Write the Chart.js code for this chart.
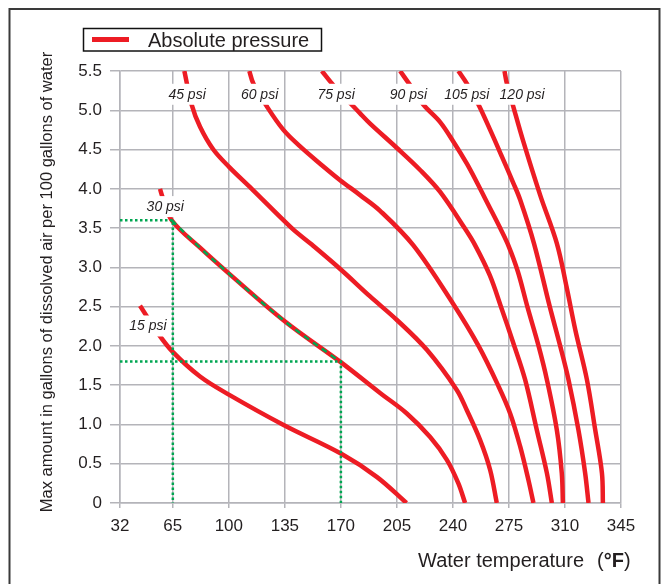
<!DOCTYPE html>
<html>
<head>
<meta charset="utf-8">
<script src="https://cdn.jsdelivr.net/npm/chart.js@4.4.0/dist/chart.umd.min.js"></script>
<style>
  html, body { margin: 0; padding: 0; background: #fff; }
</style>
</head>
<body>
<canvas id="airChart" width="663" height="584"></canvas>
<script>
// tick labels
const tempTicks = [32, 65, 100, 135, 170, 205, 240, 275, 310, 345]

// one curve per absolute pressure: water temperature (F) -> gallons of air per 100 gal
const temp15 = [44.5, 55.75, 65.1, 82, 100, 134.5, 170, 192.6, 211]
const air15 = [2.51, 2.16, 1.92, 1.61, 1.38, 0.99, 0.63, 0.33, 0]

const temp30 = [57, 58.5, 64.3, 82, 100.1, 135.1, 170.1, 194.5, 211.2, 225.75, 236.2, 243.4, 247.6]
const air30 = [4.0, 3.9, 3.6, 3.25, 2.92, 2.31, 1.79, 1.4, 1.14, 0.84, 0.55, 0.25, 0]

const temp45 = [72.2, 76.8, 82, 90.3, 100.1, 114.3, 139.3, 151.8, 170.1, 188.25, 205, 223.7, 242.4, 248.7, 257, 263.25, 267.4]
const air45 = [5.5, 5.07, 4.79, 4.5, 4.28, 4.0, 3.5, 3.29, 2.97, 2.63, 2.33, 1.95, 1.44, 1.18, 0.8, 0.42, 0]

const temp60 = [112.8, 115.3, 123.7, 134.1, 144.5, 157, 169.5, 182, 194.5, 215.3, 240, 256, 268.4, 275.75, 282, 287.2, 290.3]
const air60 = [5.5, 5.34, 5.05, 4.75, 4.54, 4.32, 4.11, 3.92, 3.72, 3.28, 2.54, 2.0, 1.49, 1.14, 0.72, 0.29, 0]

const temp75 = [158.1, 165.3, 182, 188.25, 205, 219.5, 232, 247.3, 253.9, 263, 270, 277.5, 285.1, 292.4, 298.7, 301.8]
const air75 = [5.5, 5.32, 4.96, 4.83, 4.52, 4.24, 3.96, 3.5, 3.28, 2.9, 2.5, 2.05, 1.57, 0.93, 0.38, 0]

const temp90 = [207, 213.25, 221.6, 232, 240.3, 248.7, 255, 262, 269.5, 274.6, 280.5, 286.5, 293.5, 298.7, 304.9, 308, 308.7]
const air90 = [5.5, 5.32, 5.07, 4.85, 4.6, 4.32, 4.08, 3.8, 3.5, 3.28, 2.95, 2.5, 2.0, 1.57, 0.93, 0.38, 0]

const temp105 = [243.4, 248.7, 256, 263.25, 270.6, 277.8, 282, 290.7, 300.5, 307, 312.2, 318.4, 322.6, 324.7]
const air105 = [5.5, 5.34, 5.07, 4.75, 4.41, 4.07, 3.86, 3.3, 2.5, 2.0, 1.57, 0.93, 0.38, 0]

const temp120 = [272.2, 273.7, 277.4, 284, 294.5, 305, 311, 316.5, 323.7, 328.9, 333.1, 333.7]
const air120 = [5.5, 5.34, 5.07, 4.6, 3.92, 3.3, 2.75, 2.2, 1.57, 0.93, 0.38, 0]

// curve labels, placed in data units
const psiLabels = [ '15 psi', '30 psi', '45 psi', '60 psi', '75 psi', '90 psi', '105 psi', '120 psi' ]
const psiLabelTemp = [49.5, 60.3, 73.9, 119.2, 167, 212.2, 248.7, 283.25]
const psiLabelAir = [2.26, 3.78, 5.21, 5.21, 5.21, 5.21, 5.21, 5.21]

// worked example read-offs (green)
const exampleTemps = [65, 170]
const exampleAir = [3.6, 1.8]

const RED = '#ed1c24'
const GREEN = '#00a651'
const GRID = '#b4b4b9'
const INK = '#231f20'
const FONT = '"Liberation Sans", Arial, Helvetica, sans-serif'
const Y_TITLE = 'Max amount in gallons of dissolved air per 100 gallons of water'

function toPoints( xs, ys ) {
  return xs.map( ( x, i ) => ( { x: x, y: ys[ i ] } ) )
}

let curves = [
  [ temp15, air15 ], [ temp30, air30 ], [ temp45, air45 ], [ temp60, air60 ],
  [ temp75, air75 ], [ temp90, air90 ], [ temp105, air105 ], [ temp120, air120 ]
]

let datasets = []

// green guides first so they sit on top
exampleTemps.forEach( ( t, i ) => {
  datasets.push( {
    label: 'guide ' + t,
    data: [ { x: 32, y: exampleAir[ i ] }, { x: t, y: exampleAir[ i ] }, { x: t, y: 0 } ],
    borderColor: GREEN,
    borderWidth: 2.5,
    borderDash: [ 2.5, 2.5 ],
    pointRadius: 0,
    tension: 0,
    order: 0
  } )
} )

let along30 = toPoints( temp30, air30 ).filter( p => p.x >= 64 && p.x <= 171 )
datasets.push( {
  label: 'example path',
  data: along30,
  borderColor: GREEN,
  borderWidth: 2.5,
  borderDash: [ 6, 5 ],
  pointRadius: 0,
  tension: 0.35,
  order: 0
} )

curves.forEach( ( c, i ) => {
  datasets.push( {
    label: i === 0 ? 'Absolute pressure' : psiLabels[ i ],
    data: toPoints( c[ 0 ], c[ 1 ] ),
    borderColor: RED,
    borderWidth: 4.5,
    pointRadius: 0,
    tension: 0.35,
    order: 1
  } )
} )

const framePlugin = {
  id: 'frame',
  beforeDraw( chart ) {
    const ctx = chart.ctx
    ctx.save()
    ctx.fillStyle = '#fff'
    ctx.fillRect( 0, 0, chart.width, chart.height )
    ctx.strokeStyle = '#3a3a3a'
    ctx.lineWidth = 2
    ctx.strokeRect( 9.5, 9, 650, 600 )
    ctx.restore()
  }
}

const curveLabelPlugin = {
  id: 'curveLabels',
  afterDatasetsDraw( chart ) {
    const ctx = chart.ctx
    const xs = chart.scales.x
    const ys = chart.scales.y
    ctx.save()
    ctx.font = 'italic 14px ' + FONT
    ctx.textAlign = 'center'
    ctx.textBaseline = 'middle'
    psiLabels.forEach( ( txt, i ) => {
      let px = xs.getPixelForValue( psiLabelTemp[ i ] )
      let py = ys.getPixelForValue( psiLabelAir[ i ] )
      let w = ctx.measureText( txt ).width
      ctx.fillStyle = '#fff'
      ctx.fillRect( px - w / 2 - 2, py - 10, w + 4, 21 )
      ctx.fillStyle = INK
      ctx.fillText( txt, px, py + 1 )
    } )
    ctx.restore()
  }
}

const legendPlugin = {
  id: 'boxLegend',
  afterDraw( chart ) {
    const ctx = chart.ctx
    const ds = chart.data.datasets.find( d => d.label === 'Absolute pressure' )
    ctx.save()
    ctx.strokeStyle = '#111'
    ctx.lineWidth = 1.5
    ctx.strokeRect( 83.5, 28.5, 238, 22.5 )
    ctx.strokeStyle = ds.borderColor
    ctx.lineWidth = 5
    ctx.beginPath()
    ctx.moveTo( 92, 39.5 )
    ctx.lineTo( 129, 39.5 )
    ctx.stroke()
    ctx.fillStyle = INK
    ctx.font = '20px ' + FONT
    ctx.textBaseline = 'alphabetic'
    ctx.fillText( ds.label, 148, 47 )
    ctx.restore()
  }
}

const axisTitlePlugin = {
  id: 'axisTitles',
  afterDraw( chart ) {
    const ctx = chart.ctx
    ctx.save()
    ctx.fillStyle = INK
    // y title, rotated
    ctx.save()
    ctx.translate( 47, 282 )
    ctx.rotate( -Math.PI / 2 )
    ctx.font = '16.5px ' + FONT
    ctx.textAlign = 'center'
    ctx.textBaseline = 'middle'
    ctx.fillText( Y_TITLE, 0, 0 )
    ctx.restore()
    // x title with bold unit
    ctx.textBaseline = 'alphabetic'
    ctx.font = '20px ' + FONT
    ctx.textAlign = 'right'
    ctx.fillText( 'Water temperature', 584, 567 )
    ctx.textAlign = 'left'
    let x = 597
    ctx.fillText( '(', x, 567 )
    x += ctx.measureText( '(' ).width
    ctx.font = 'bold 20px ' + FONT
    ctx.fillText( '°F', x, 567 )
    x += ctx.measureText( '°F' ).width
    ctx.font = '20px ' + FONT
    ctx.fillText( ')', x, 567 )
    ctx.restore()
  }
}

Chart.defaults.font.family = FONT
Chart.defaults.color = INK

new Chart( document.getElementById( 'airChart' ), {
  type: 'line',
  data: { datasets: datasets },
  plugins: [ framePlugin, curveLabelPlugin, legendPlugin, axisTitlePlugin ],
  options: {
    responsive: false,
    animation: false,
    devicePixelRatio: 1,
    layout: { padding: { top: 71, right: 42, left: 0, bottom: 0 } },
    plugins: {
      legend: { display: false },
      tooltip: { enabled: false }
    },
    scales: {
      x: {
        type: 'linear',
        min: 32,
        max: 345,
        afterBuildTicks: ( s ) => { s.ticks = tempTicks.map( v => ( { value: v } ) ) },
        afterFit: ( s ) => { s.height = 81 },
        grid: { color: GRID, lineWidth: 1.5, tickLength: 5, tickColor: GRID },
        border: { color: GRID, width: 1.5 },
        ticks: { font: { size: 17 }, color: INK, padding: 8, maxRotation: 0, autoSkip: false }
      },
      y: {
        min: 0,
        max: 5.5,
        afterFit: ( s ) => { s.width = 120 },
        grid: { color: GRID, lineWidth: 1.5, tickLength: 10, tickColor: GRID },
        border: { color: GRID, width: 1.5 },
        ticks: {
          stepSize: 0.5,
          font: { size: 17 },
          color: INK,
          padding: 8,
          callback: ( v ) => v === 0 ? '0' : v.toFixed( 1 )
        }
      }
    }
  }
} )
</script>
</body>
</html>
